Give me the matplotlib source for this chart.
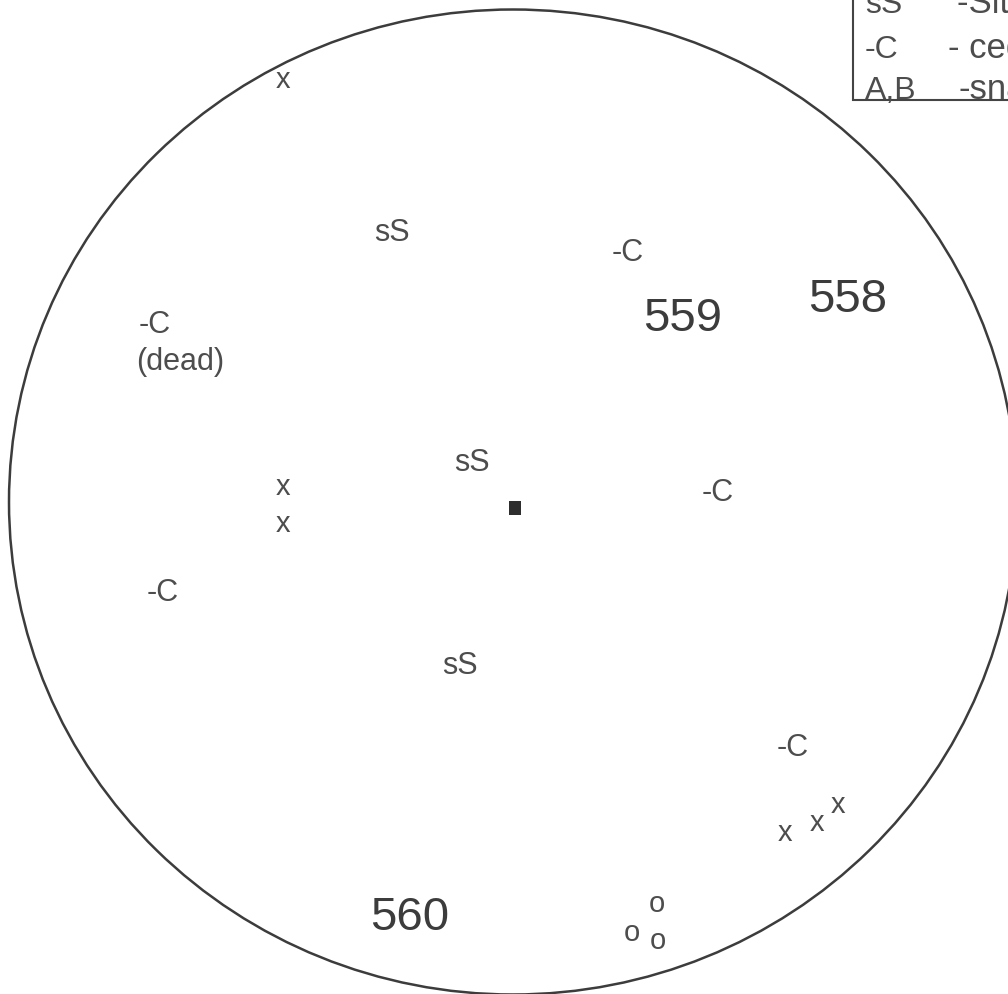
import matplotlib
matplotlib.use("Agg")
import matplotlib.pyplot as plt
from matplotlib.patches import Ellipse, Rectangle

plt.rcParams['font.family'] = ['Liberation Sans', 'DejaVu Sans']

INK = '#4d4d4d'

# plot boundary (map units = pixels, y grows downward)
plot_center = (513, 502)
plot_size = (1008, 985)
centre_stake = (515, 508)

# stumps (x) and other marks (o), baseline positions
stump_x = [283, 283, 283, 785, 817, 838]
stump_y = [88, 495, 532, 841, 831, 813]
ring_x = [657, 632, 658]
ring_y = [912, 941, 949]

# tree labels
tree_labels = ['sS', 'sS', 'sS', '-C', '-C', '-C', '-C', '-C']
tree_x = [392, 472, 460, 628, 155, 718, 163, 793]
tree_y = [241, 471, 674, 261, 333, 501, 601, 756]

# neighbouring plot numbers
plot_ids = ['559', '558', '560']
plot_id_x = [683, 848, 410]
plot_id_y = [331, 312, 930]

# key
key_codes = ['sS', '-C', 'A,B']
key_text = ['-Sitka spruce', '- cedar', '-snag']
key_text_x = [957, 948, 958]
key_y = [13, 58, 99]

fig = plt.figure(figsize=(10.08, 9.94), dpi=100)
ax = fig.add_axes([0, 0, 1, 1])
ax.set_xlim(0, 1008)
ax.set_ylim(994, 0)
ax.axis('off')

ax.add_patch(Ellipse(plot_center, plot_size[0], plot_size[1], fill=False,
                     edgecolor='#3c3c3c', linewidth=1.8))

ax.add_patch(Rectangle((centre_stake[0] - 6, centre_stake[1] - 7), 12, 14,
                       facecolor='#2e2e2e', edgecolor='none'))

for x, y in zip(stump_x, stump_y):
    ax.text(x, y, 'x', fontsize=21, color=INK, ha='center', va='baseline')
for x, y in zip(ring_x, ring_y):
    ax.text(x, y, 'o', fontsize=21, color=INK, ha='center', va='baseline')

for lab, x, y in zip(tree_labels, tree_x, tree_y):
    ax.text(x, y, lab, fontsize=22, color=INK, ha='center', va='baseline')
ax.text(136, 370, '(dead)', fontsize=22, color=INK, ha='left', va='baseline')

for lab, x, y in zip(plot_ids, plot_id_x, plot_id_y):
    ax.text(x, y, lab, fontsize=34, color='#3c3c3c', ha='center', va='baseline')

# key box, running off the top/right edge
ax.add_patch(Rectangle((853, -20), 200, 120, fill=False,
                       edgecolor='#444444', linewidth=1.5, clip_on=False))
for code, txt, tx, y in zip(key_codes, key_text, key_text_x, key_y):
    ax.text(865, y, code, fontsize=23, color=INK, ha='left', va='baseline')
    ax.text(tx, y, txt, fontsize=25, color=INK, ha='left', va='baseline')

fig.savefig('out.png', dpi=100, facecolor='white')
